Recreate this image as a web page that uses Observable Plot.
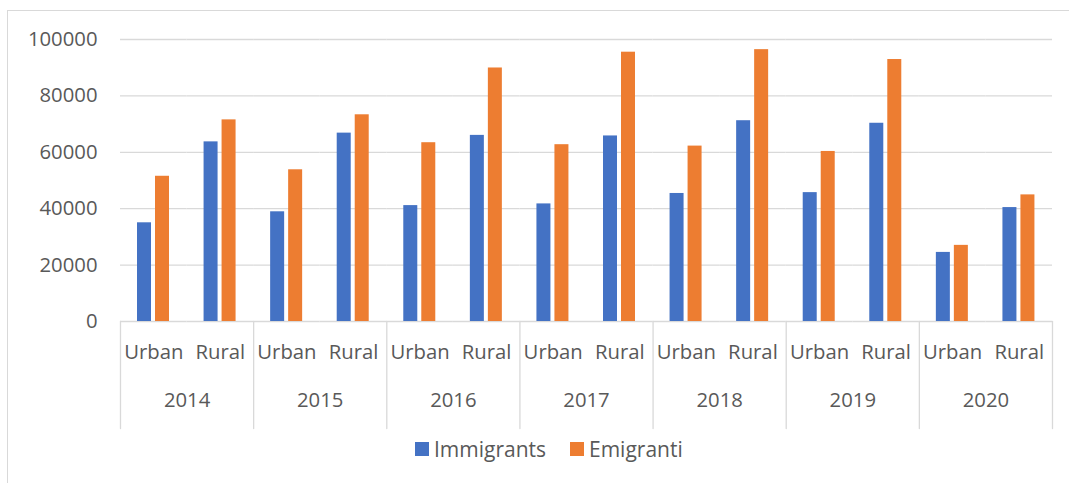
<!DOCTYPE html>
<html>
<head>
<meta charset="utf-8">
<script src="https://cdn.jsdelivr.net/npm/d3@7"></script>
<script src="https://cdn.jsdelivr.net/npm/@observablehq/plot@0.6"></script>
<style>
  html, body { margin: 0; padding: 0; background: #fff; overflow: hidden; }
  #wrap { position: relative; width: 1069px; height: 483px; font-family: 'Open Sans', sans-serif; color: #595959; }
  #border { position: absolute; left: 7px; top: 10px; width: 1100px; height: 520px; border: 1px solid #d9d9d9; box-sizing: border-box; pointer-events: none; }
  #chart { position: absolute; left: 0; top: 0; }
  .item { position: absolute; top: 436px; display: flex; align-items: center; font-size: 21px; line-height: 26px; }
  .sw { width: 14px; height: 14px; margin-right: 5px; }
</style>
</head>
<body>
<div id="wrap">
  <div id="border"></div>
  <div id="chart"></div>
  <div id="legend"></div>
</div>
<script>
const years = ["2014", "2015", "2016", "2017", "2018", "2019", "2020"];
const areas = ["Urban", "Rural"];
const seriesNames = ["Immigrants", "Emigranti"];
const seriesColors = ["#4472C4", "#ED7D31"];
// order: 2014 Urban, 2014 Rural, 2015 Urban, ...
const immigrants = [35000, 63700, 38900, 66800, 41100, 66000, 41700, 65800, 45400, 71200, 45700, 70300, 24500, 40400];
const emigranti  = [51500, 71500, 53800, 73300, 63400, 89900, 62700, 95500, 62200, 96400, 60300, 92900, 27000, 44900];
const yTicks = [0, 20000, 40000, 60000, 80000, 100000];

const keys = [];
const rows = [];
years.forEach((year, i) => {
  areas.forEach((area, j) => {
    const key = year + " " + area;
    keys.push(key);
    const idx = i * 2 + j;
    rows.push({key, year, area, series: seriesNames[0], value: immigrants[idx]});
    rows.push({key, year, area, series: seriesNames[1], value: emigranti[idx]});
  });
});
const yearRows = years.map(year => ({year, key: year + " " + areas[1]}));
const sepLeft = years.map(year => ({key: year + " " + areas[0]}));
const sepRight = [{key: years[years.length - 1] + " " + areas[1]}];

const lineShape = { draw(context, l) { context.moveTo(0, 0); context.lineTo(0, -l); } };
const sepStyle = {fx: "key", length: 107, rotate: 180, anchor: "start", shape: lineShape, stroke: "#d9d9d9", strokeWidth: 1.3};

const chart = Plot.plot({
  width: 1069,
  height: 440,
  marginTop: 39,
  marginBottom: 119,
  marginLeft: 120,
  marginRight: 17,
  style: {fontFamily: "'Open Sans', sans-serif", fontSize: "20.3px", color: "#595959", background: "transparent"},
  fx: {domain: keys, padding: 0, round: false, label: null},
  x: {domain: seriesNames, paddingInner: 0.21, paddingOuter: 0.857, axis: null},
  y: {domain: [0, 100000], label: null},
  color: {domain: seriesNames, range: seriesColors},
  marks: [
    Plot.gridY(yTicks, {stroke: "#d9d9d9", strokeOpacity: 1, strokeWidth: 1.3}),
    Plot.axisY(yTicks, {tickSize: 0, tickPadding: 23, tickFormat: "d", label: null}),
    Plot.barY(rows, {fx: "key", x: "series", y: "value", fill: "series"}),
    Plot.axisFx({anchor: "bottom", tickSize: 0, tickPadding: 23, tickFormat: k => k.split(" ")[1], label: null}),
    Plot.text(yearRows, {fx: "key", frameAnchor: "bottom-left", text: "year", dy: 79, textAnchor: "middle", lineAnchor: "middle"}),
    Plot.vector(sepLeft, {...sepStyle, frameAnchor: "bottom-left"}),
    Plot.vector(sepRight, {...sepStyle, frameAnchor: "bottom-right"})
  ]
});
document.getElementById("chart").appendChild(chart);

const legend = document.getElementById("legend");
const legendLeft = [415, 570];
seriesNames.forEach((name, i) => {
  const item = document.createElement("div");
  item.className = "item";
  item.style.left = legendLeft[i] + "px";
  const sw = document.createElement("div");
  sw.className = "sw";
  sw.style.background = seriesColors[i];
  const label = document.createElement("span");
  label.textContent = name;
  item.appendChild(sw);
  item.appendChild(label);
  legend.appendChild(item);
});
</script>
</body>
</html>
